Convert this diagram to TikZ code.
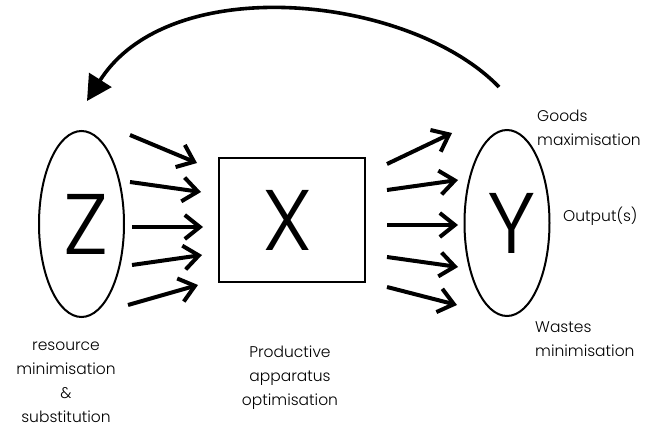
\documentclass[tikz,border=0pt]{standalone}
\usepackage{fontspec}
\setmainfont{Poppins}
\newfontfamily\lightfont{Poppins Light}
\usetikzlibrary{arrows.meta,shapes.geometric}
\begin{document}
\begin{tikzpicture}[x=1pt,y=-1pt,
  oval/.style={draw,ellipse,line width=2pt,inner sep=0pt,minimum width=85pt,minimum height=186pt,font=\lightfont\fontsize{86}{86}\selectfont},
  procbox/.style={draw,rectangle,line width=2.2pt,inner sep=0pt,minimum width=146pt,minimum height=124pt,font=\lightfont\fontsize{86}{86}\selectfont},
  flow/.style={line width=4pt,-{Straight Barb[length=15pt,width=24pt]}},
  loopback/.style={line width=3.6pt,-{Triangle[length=25pt,width=26pt]}},
  lbl/.style={inner sep=0pt,font=\lightfont\fontsize{15.5}{24}\selectfont}]
\useasboundingbox (0,0) rectangle (649,428);

\node[oval] (z) at (81.5,224) {\kern10pt Z};
\node[procbox] (x) at (292,220) {X\kern9pt};
\node[oval] (y) at (507,223) {\kern9pt Y};

% inputs
\coordinate (a1s) at (130,135); \coordinate (a1e) at (197,163);
\coordinate (a2s) at (130,182); \coordinate (a2e) at (201,192);
\coordinate (a3s) at (132,227); \coordinate (a3e) at (203,227);
\coordinate (a4s) at (132,265); \coordinate (a4e) at (202,255);
\coordinate (a5s) at (128,305); \coordinate (a5e) at (198,285);
\foreach \i in {1,...,5} \draw[flow] (a\i s) -- (a\i e);

% outputs
\coordinate (b1s) at (387,164); \coordinate (b1e) at (452,133);
\coordinate (b2s) at (387,190); \coordinate (b2e) at (458,180);
\coordinate (b3s) at (387,225); \coordinate (b3e) at (458,225);
\coordinate (b4s) at (387,257); \coordinate (b4e) at (458,267);
\coordinate (b5s) at (387,287); \coordinate (b5e) at (457,305);
\foreach \i in {1,...,5} \draw[flow] (b\i s) -- (b\i e);

% feedback
\coordinate (fs) at (499,87);
\coordinate (fe) at (87,101);
\draw[loopback] (fs) .. controls (410,-5) and (170,-30) .. (fe);

% labels
\node[lbl,anchor=north west,align=left] (goods) at (537,104.2) {\strut Goods\\maximisation};
\node[lbl,anchor=base west] (out) at (563,222) {Output(s)};
\node[lbl,anchor=north west,align=left] (wastes) at (535,315.2) {\strut Wastes\\minimisation};
\node[lbl,anchor=north,align=center] (res) at (66,333.2) {\strut resource\\minimisation\\\&\\substitution};
\node[lbl,anchor=north,align=center] (prod) at (290,340.2) {\strut Productive\\apparatus\\optimisation};
\end{tikzpicture}
\end{document}
